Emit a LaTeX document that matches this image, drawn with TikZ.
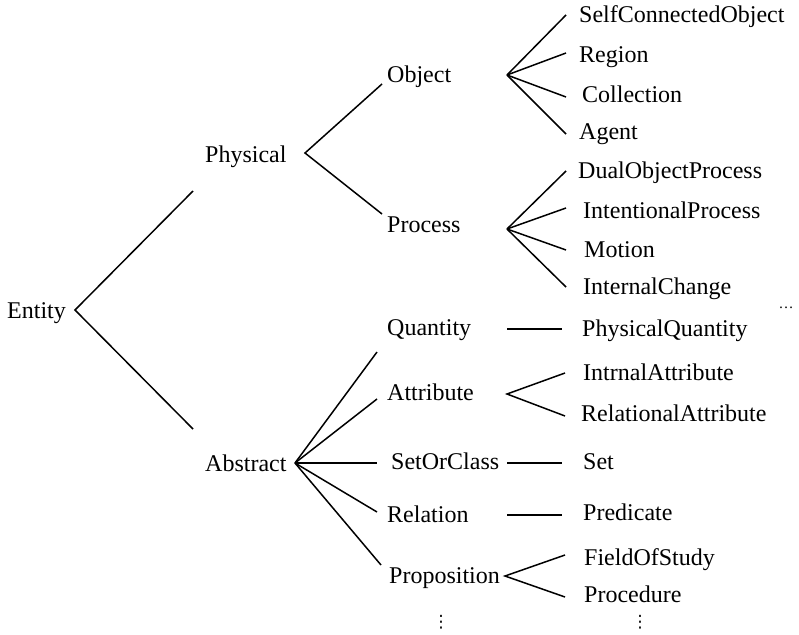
\documentclass[tikz,border=0pt]{standalone}
\usepackage{fontspec}
\setmainfont{Liberation Serif}
\newfontfamily\symfont{DejaVu Sans}
\begin{document}
\begin{tikzpicture}[x=1pt,y=-1pt,
  lbl/.style={anchor=base west,inner sep=0pt,font=\fontsize{24}{28}\selectfont},
  vdotsnode/.style={inner sep=0pt,anchor=center,font=\fontsize{17}{20}\symfont},
  edge/.style={line width=1.5pt}]
\useasboundingbox (0,0) rectangle (799,634);

% ---- labels ----
\node[lbl] (entity)   at (7,318)   {Entity};
\node[lbl] (physical) at (205,162) {Physical};
\node[lbl] (abstract) at (205,471) {Abstract};

\node[lbl] (object)  at (387,82)  {Object};
\node[lbl] (process) at (387,232) {Process};

\node[lbl] (sco)    at (579,23)  {SelfConnectedObject};
\node[lbl] (region) at (579,62)  {Region};
\node[lbl] (coll)   at (582,102) {Collection};
\node[lbl] (agent)  at (579,139) {Agent};

\node[lbl] (dop)    at (578,178) {DualObjectProcess};
\node[lbl] (ip)     at (583,218) {IntentionalProcess};
\node[lbl] (motion) at (584,257) {Motion};
\node[lbl] (ic)     at (583,294) {InternalChange};

\node[lbl] (quantity) at (387,335) {Quantity};
\node[lbl] (attr)     at (387,400) {Attribute};
\node[lbl] (soc)      at (391,469) {SetOrClass};
\node[lbl] (relation) at (387,522) {Relation};
\node[lbl] (prop)     at (389,583) {Proposition};

\node[lbl] (pq)    at (582,336) {PhysicalQuantity};
\node[lbl] (ia)    at (583,380) {IntrnalAttribute};
\node[lbl] (ra)    at (581,421) {RelationalAttribute};
\node[lbl] (set)   at (583,469) {Set};
\node[lbl] (pred)  at (583,520) {Predicate};
\node[lbl] (fos)   at (584,565) {FieldOfStudy};
\node[lbl] (proc)  at (584,602) {Procedure};

% ---- ellipses ----
\node[inner sep=0pt,anchor=base,font=\fontsize{15}{18}\selectfont] (more) at (786,308) {…};
\node[vdotsnode] (vdl) at (441,622) {⋮};
\node[vdotsnode] (vdr) at (640,622) {⋮};

% ---- fork points and branch ends ----
\coordinate (eA) at (75,310);
\coordinate (e1) at (193,191);
\coordinate (e2) at (193,429);

\coordinate (pA) at (305,153);
\coordinate (p1) at (382,84);
\coordinate (p2) at (382,214);

\coordinate (oA) at (507,75);
\coordinate (o1) at (566,15);
\coordinate (o2) at (566,53);
\coordinate (o3) at (566,97);
\coordinate (o4) at (566,134);

\coordinate (rA) at (507,229);
\coordinate (r1) at (566,171);
\coordinate (r2) at (566,208);
\coordinate (r3) at (566,250);
\coordinate (r4) at (566,287);

\coordinate (aA) at (295,463);
\coordinate (a1) at (377,352);
\coordinate (a2) at (377,399);
\coordinate (a3) at (377,463);
\coordinate (a4) at (377,512);
\coordinate (a5) at (381,565);

\coordinate (q1) at (507,329);
\coordinate (q2) at (562,329);

\coordinate (tA) at (507,394);
\coordinate (t1) at (565,373);
\coordinate (t2) at (565,416);

\coordinate (s1) at (507,463);
\coordinate (s2) at (562,463);

\coordinate (l1) at (507,515);
\coordinate (l2) at (562,515);

\coordinate (xA) at (505,576);
\coordinate (x1) at (565,555);
\coordinate (x2) at (565,597);

% ---- connectors ----
\draw[edge] (e1) -- (eA) -- (e2);
\draw[edge] (p1) -- (pA) -- (p2);
\foreach \k in {1,...,4} \draw[edge] (oA) -- (o\k);
\foreach \k in {1,...,4} \draw[edge] (rA) -- (r\k);
\foreach \k in {1,...,5} \draw[edge] (aA) -- (a\k);
\draw[edge] (q1) -- (q2);
\draw[edge] (t1) -- (tA) -- (t2);
\draw[edge] (s1) -- (s2);
\draw[edge] (l1) -- (l2);
\draw[edge] (x1) -- (xA) -- (x2);
\end{tikzpicture}
\end{document}
